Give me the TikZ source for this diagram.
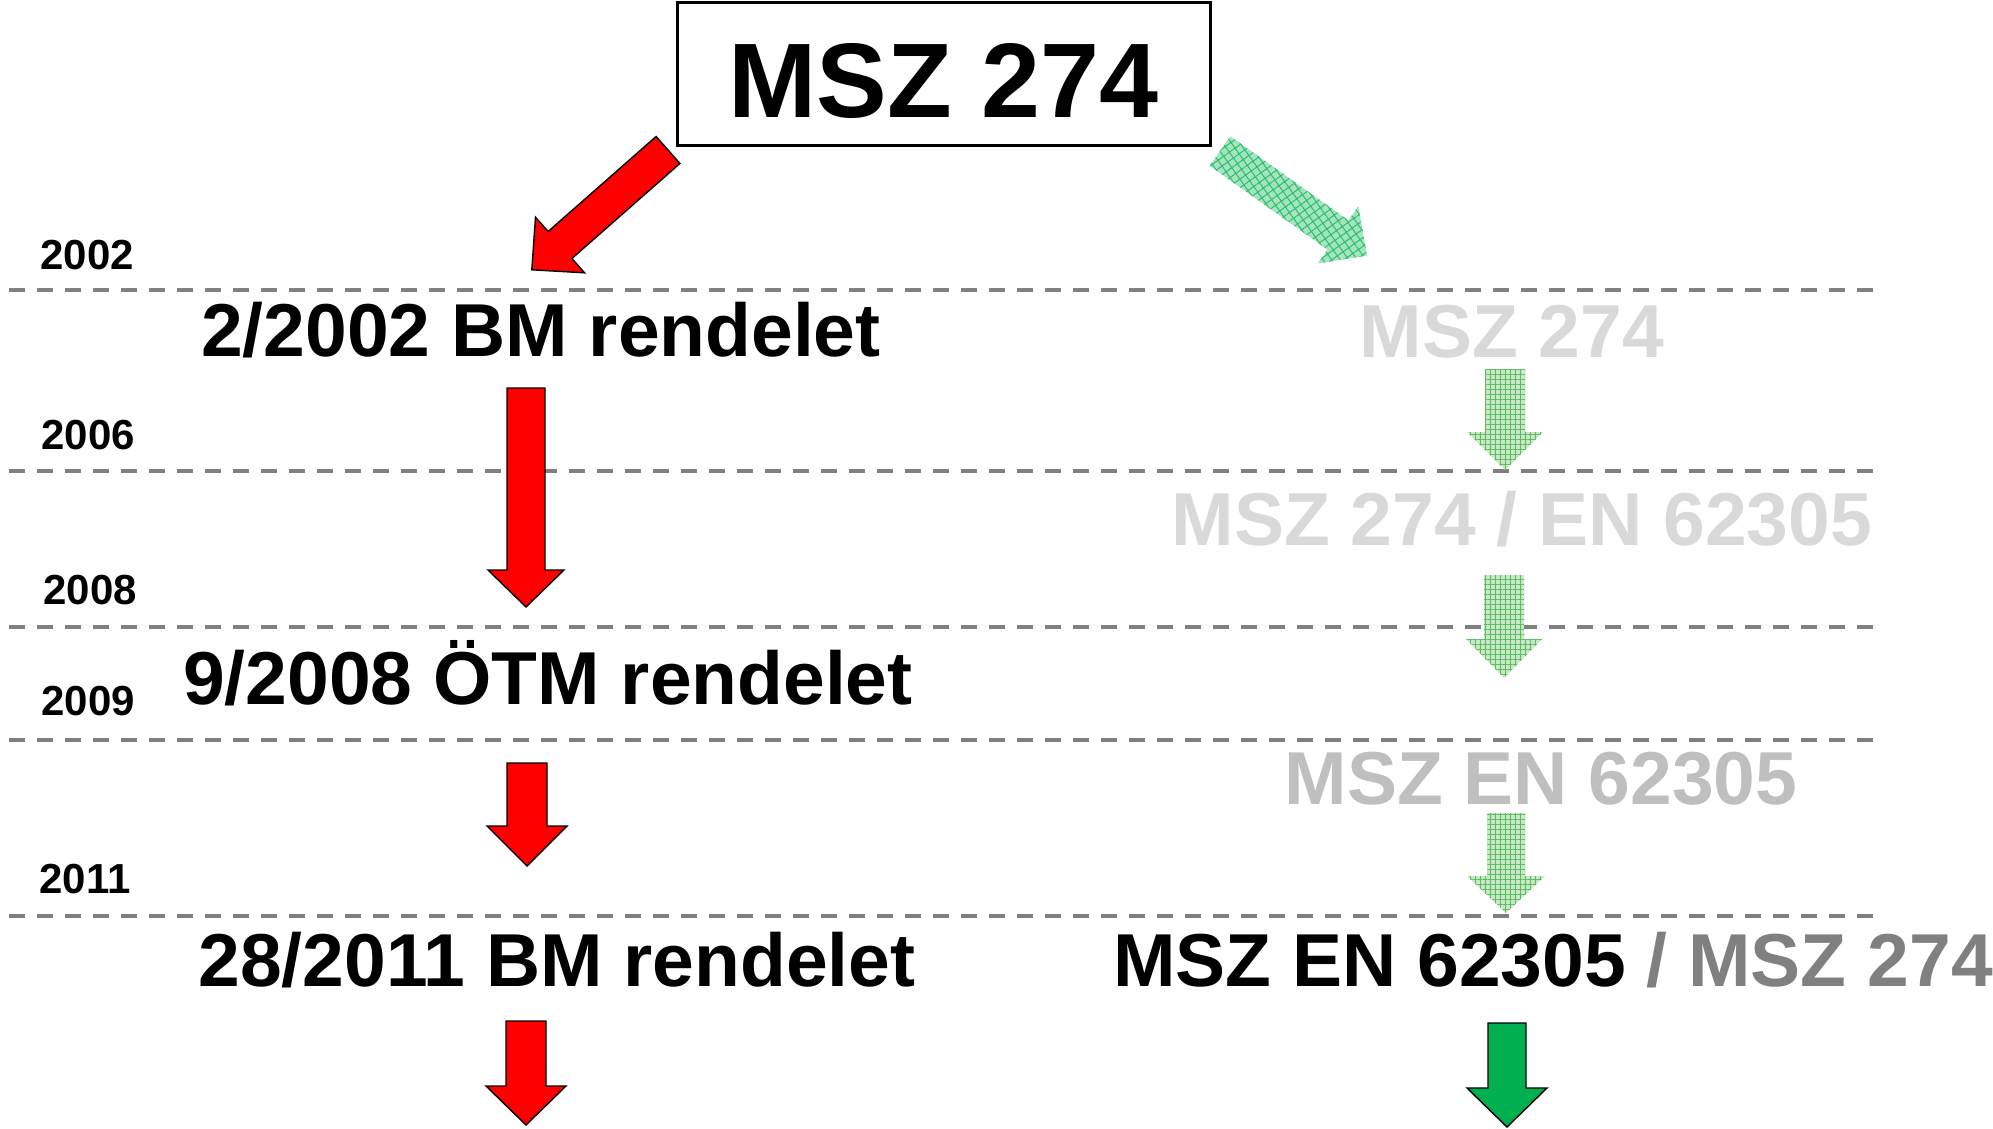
\documentclass[tikz,border=0pt]{standalone}
\usepackage{fontspec}
\setmainfont{Liberation Sans}
\usetikzlibrary{patterns,patterns.meta}
\definecolor{lgray}{HTML}{D9D9D9}
\definecolor{mgray}{HTML}{BFBFBF}
\definecolor{dgray}{HTML}{808080}
\definecolor{arrgreen}{HTML}{00B050}
\definecolor{hatchfill}{RGB}{198,232,198}
\definecolor{hatchline}{RGB}{95,185,95}
\definecolor{diagfill}{RGB}{165,228,192}
\definecolor{diagline}{RGB}{45,190,110}
\newcommand\varrow[7]{\path[#1] ({#2-#6},#3) -- ({#2+#6},#3) -- ({#2+#6},#4) -- ({#2+#7},#4) -- (#2,#5) -- ({#2-#7},#4) -- ({#2-#6},#4) -- cycle;}
\begin{document}
\begin{tikzpicture}[x=0.5pt,y=-0.5pt,
  redarrow/.style={fill=red,draw=black,line width=0.7pt,line join=miter},
  greenarrow/.style={fill=arrgreen,draw=black,line width=0.7pt,line join=miter},
  hatcharrow/.style={fill=hatchfill,postaction={pattern={Hatch[angle=0,distance=2.5pt,line width=0.35pt]},pattern color=hatchline}},
  diagarrow/.style={fill=diagfill,postaction={pattern={Hatch[angle=35.4,distance=3.5pt,line width=0.5pt]},pattern color=diagline}},
  timeline/.style={draw=dgray,line width=2pt,dash pattern=on 8pt off 6pt},
  year/.style={anchor=base west,inner sep=0pt,font=\fontsize{21pt}{24pt}\selectfont\bfseries},
  big/.style={anchor=base,inner sep=0pt,font=\fontsize{37.5pt}{42pt}\selectfont\bfseries},
  topbox/.style={draw=black,line width=1.5pt,minimum width=266.5pt,minimum height=71.5pt,inner sep=0pt,
    text height=43.5pt,text depth=0pt,font=\fontsize{53pt}{60pt}\selectfont\bfseries}]
\useasboundingbox (0,0) rectangle (1993,1129);
\fill[white] (0,0) rectangle (1993,1129);

% time lines
\foreach \yy/\nm in {290/l1,471/l2,627/l3,740/l4,916/l5}{
  \coordinate (\nm a) at (9,\yy);
  \coordinate (\nm b) at (1877,\yy);
  \draw[timeline] (\nm a) -- (\nm b);
}

% top box
\node[topbox] (msz) at (943.5,74.5) {MSZ 274};

% year labels
\node[year] (y2002) at (40,269) {2002};
\node[year] (y2006) at (41,449) {2006};
\node[year] (y2008) at (43,604) {2008};
\node[year] (y2009) at (41,715) {2009};
\node[year] (y2011) at (39,893) {2011};

% left column texts
\node[big] (bm2002) at (541,356) {2/2002 BM rendelet};
\node[big] (otm2008) at (548,704) {9/2008 ÖTM rendelet};
\node[big] (bm2011) at (557,986) {28/2011 BM rendelet};

% right column texts
\node[big,text=lgray] (r1) at (1512,357) {MSZ 274};
\node[big,text=lgray] (r2) at (1522,545) {MSZ 274 / EN 62305};
\node[big,text=mgray] (r3) at (1541,804) {MSZ EN 62305};
\node[big] (r4) at (1553,986) {MSZ EN 62305 \textcolor{dgray}{/ MSZ 274}};

% diagonal arrows
\path[redarrow] (679.9,163.5) -- (656.1,136.5) -- (548.1,231.5) -- (535.5,217.2)
  -- (531.8,269.8) -- (584.5,272.8) -- (571.9,258.5) -- cycle;
\path[diagarrow] (1209.6,165.7) -- (1230.4,136.3) -- (1348.4,220.3) -- (1358.3,206.5)
  -- (1367,255.6) -- (1317.7,263.5) -- (1327.6,249.7) -- cycle;

% vertical arrows left
\varrow{redarrow}{526}{388}{570}{607}{19}{38}
\varrow{redarrow}{527}{763}{826}{866}{20}{40}
\varrow{redarrow}{526}{1021}{1086}{1125}{20}{40}

% vertical arrows right
\varrow{hatcharrow}{1505}{369}{432}{470}{20}{38}
\varrow{hatcharrow}{1504}{575}{639}{678}{20}{38}
\varrow{hatcharrow}{1506}{813}{876}{913}{19}{39}
\varrow{greenarrow}{1507}{1023}{1088}{1127}{19}{40}
\end{tikzpicture}
\end{document}
